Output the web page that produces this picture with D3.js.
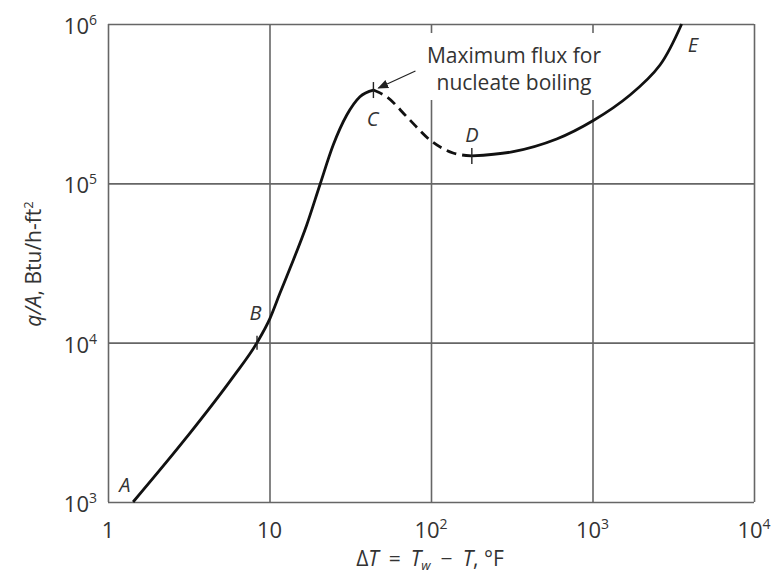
<!DOCTYPE html>
<html>
<head>
<meta charset="utf-8">
<script src="https://cdn.jsdelivr.net/npm/d3@7"></script>
<style>
  body { margin: 0; background: #fff; }
  text { font-family: "Open Sans", sans-serif; fill: #333; }
  .grid line { stroke: #666; stroke-width: 1.6; }
  .grid path { display: none; }
</style>
</head>
<body>
<div id="chart"></div>
<script>
// boiling curve, log-log
var xTicks = [1, 10, 100, 1000, 10000]
var yTicks = [1e3, 1e4, 1e5, 1e6]

// A -> B -> C (nucleate boiling), solid
var nucleateT = [1.43, 3.08, 5.94, 8.37, 10.07, 11.6, 13.4, 17.0, 20.5, 24.8, 30.1, 36.3, 44.0]
var nucleateQ = [1000, 2560, 6080, 10000, 14200, 20400, 29300, 54800, 97700, 174000, 268500, 349700, 385000]
// C -> D (unstable film), dashed
var transT = [44.0, 53.4, 71, 98.6, 137, 179]
var transQ = [385000, 348000, 261000, 187000, 155000, 148500]
// D -> E (stable film), solid
var filmT = [179, 323, 600, 1012, 1708, 2618, 3565]
var filmQ = [148500, 158000, 189800, 247900, 358400, 552800, 1000000]

var labels = ['A', 'B', 'C', 'D', 'E']
var labelT = [1.27, 8.2, 43.5, 179, 4190]
var labelQ = [1155, 13900, 230000, 181700, 667000]

var marks = [{t: 8.37, q: 10000, len: 7}, {t: 44.0, q: 385000, len: 8}, {t: 179, q: 148500, len: 8}]

var W = 781, H = 578
var m = {left: 108, right: 27, top: 24, bottom: 76}
var w = W - m.left - m.right, h = H - m.top - m.bottom

var svg = d3.select('#chart').append('svg').attr('width', W).attr('height', H)
var g = svg.append('g').attr('transform', 'translate(' + m.left + ',' + m.top + ')')

var x = d3.scaleLog().domain([1, 1e4]).range([0, w])
var y = d3.scaleLog().domain([1e3, 1e6]).range([h, 0])

function pow10(sel, d, supSize) {
  var e = Math.round(Math.log10(d))
  sel.text(null)
  if (e === 0) { sel.append('tspan').text('1'); return }
  if (e === 1) { sel.append('tspan').text('10'); return }
  sel.append('tspan').text('10')
  sel.append('tspan').attr('dy', -9).style('font-size', supSize + 'px').text(e)
}

// grid
g.append('g').attr('class', 'grid')
  .attr('transform', 'translate(0,' + h + ')')
  .call(d3.axisBottom(x).tickValues(xTicks).tickSize(-h).tickFormat(''))
g.append('g').attr('class', 'grid')
  .call(d3.axisLeft(y).tickValues(yTicks).tickSize(-w).tickFormat(''))

// tick labels
g.selectAll('.xlab').data(xTicks).enter().append('text')
  .attr('class', 'xlab')
  .attr('x', function(d) { return x(d) })
  .attr('y', h + 36)
  .attr('text-anchor', 'middle')
  .style('font-size', '22px')
  .each(function(d) { pow10(d3.select(this), d, 14) })

g.selectAll('.ylab').data(yTicks).enter().append('text')
  .attr('class', 'ylab')
  .attr('x', -11)
  .attr('y', function(d) { return y(d) + 10 })
  .attr('text-anchor', 'end')
  .style('font-size', '22px')
  .each(function(d) { pow10(d3.select(this), d, 14) })

// curve
var line = d3.line()
  .x(function(d) { return x(d[0]) })
  .y(function(d) { return y(d[1]) })
  .curve(d3.curveMonotoneX)
var smooth = d3.line()
  .x(function(d) { return x(d[0]) })
  .y(function(d) { return y(d[1]) })
  .curve(d3.curveCatmullRom.alpha(0.5))

function pts(ts, qs) { return ts.map(function(t, i) { return [t, qs[i]] }) }

g.append('path').attr('d', line(pts(nucleateT, nucleateQ)))
  .attr('fill', 'none').attr('stroke', '#111').attr('stroke-width', 2.8)
g.append('path').attr('d', line(pts(transT, transQ)))
  .attr('fill', 'none').attr('stroke', '#111').attr('stroke-width', 2.8)
  .attr('stroke-dasharray', '10,6')
g.append('path').attr('d', smooth(pts(filmT, filmQ)))
  .attr('fill', 'none').attr('stroke', '#111').attr('stroke-width', 2.8)

// small marks at B, C, D
g.selectAll('.mk').data(marks).enter().append('line')
  .attr('x1', function(d) { return x(d.t) }).attr('x2', function(d) { return x(d.t) })
  .attr('y1', function(d) { return y(d.q) - d.len }).attr('y2', function(d) { return y(d.q) + d.len })
  .attr('stroke', '#222').attr('stroke-width', 1.4)

// letters
g.selectAll('.pt').data(labels).enter().append('text')
  .attr('x', function(d, i) { return x(labelT[i]) })
  .attr('y', function(d, i) { return y(labelQ[i]) })
  .attr('text-anchor', 'middle')
  .style('font-size', '20px').style('font-style', 'italic')
  .text(function(d) { return d })

// annotation, white box knocks out the grid behind it
svg.append('defs').append('marker')
  .attr('id', 'arr').attr('viewBox', '0 0 10 10').attr('refX', 9).attr('refY', 5)
  .attr('markerWidth', 9).attr('markerHeight', 9).attr('orient', 'auto')
  .append('path').attr('d', 'M0,1L10,5L0,9Z').attr('fill', '#222')
var cx = x(44.0), cy = y(385000)
var noteX = 514 - m.left
g.append('rect').attr('x', noteX - 94).attr('y', 9).attr('width', 188).attr('height', 67)
  .attr('fill', '#fff')
g.append('line')
  .attr('x1', cx + 42).attr('y1', cy - 19)
  .attr('x2', cx + 5).attr('y2', cy - 2)
  .attr('stroke', '#222').attr('stroke-width', 1.2)
  .attr('marker-end', 'url(#arr)')
var note = g.append('text').attr('x', noteX).attr('y', 39)
  .attr('text-anchor', 'middle').style('font-size', '21px')
note.append('tspan').attr('x', noteX).text('Maximum flux for')
note.append('tspan').attr('x', noteX).attr('dy', 27).text('nucleate boiling')

// axis titles
var xt = svg.append('text').attr('x', 430).attr('y', 566)
  .attr('text-anchor', 'middle').style('font-size', '21px')
xt.append('tspan').text('Δ')
xt.append('tspan').style('font-style', 'italic').text('T')
xt.append('tspan').attr('dx', 10).text('=')
xt.append('tspan').attr('dx', 10).style('font-style', 'italic').text('T')
xt.append('tspan').attr('dy', 4).style('font-size', '13px').style('font-style', 'italic').text('w')
xt.append('tspan').attr('dy', -4).attr('dx', 10).text('−')
xt.append('tspan').attr('dx', 10).style('font-style', 'italic').text('T')
xt.append('tspan').text(', °F')

var yt = svg.append('text')
  .attr('transform', 'translate(41,264) rotate(-90)')
  .attr('text-anchor', 'middle').style('font-size', '21px')
yt.append('tspan').style('font-style', 'italic').text('q/A')
yt.append('tspan').text(', Btu/h-ft')
yt.append('tspan').attr('dy', -8).style('font-size', '13px').text('2')
</script>
</body>
</html>
